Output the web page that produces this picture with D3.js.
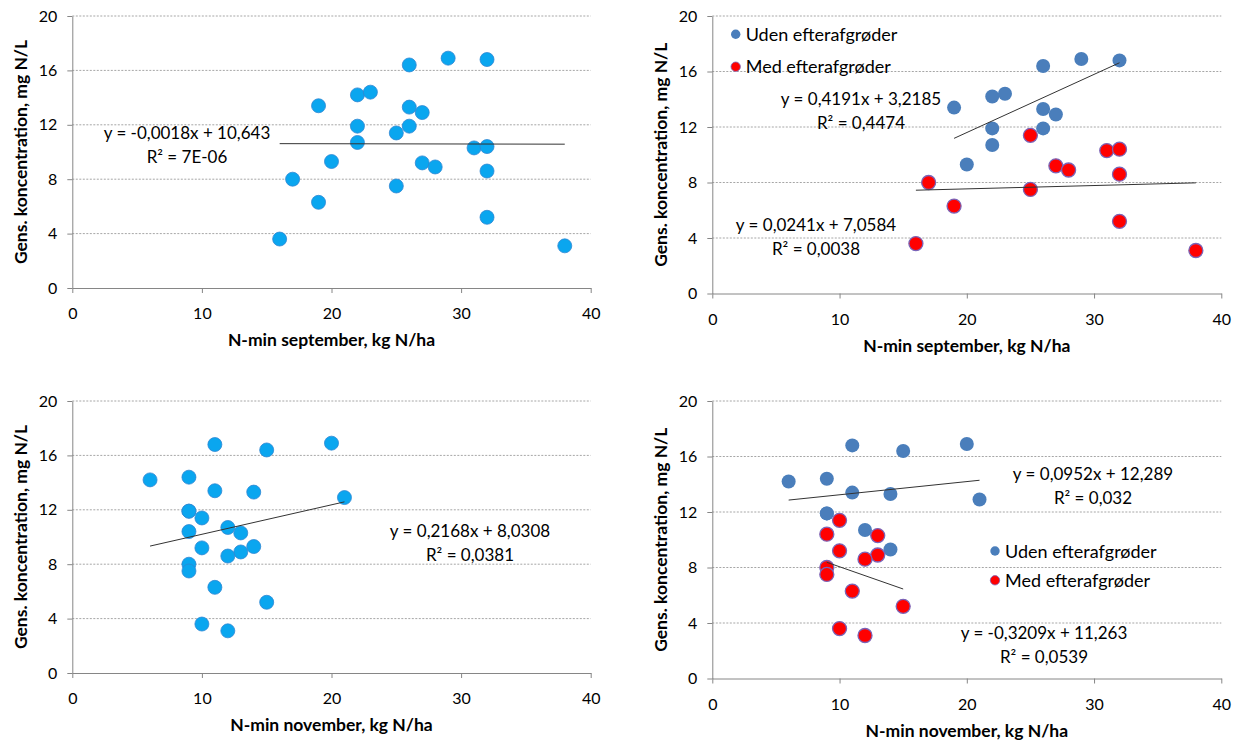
<!DOCTYPE html>
<meta charset="utf-8">
<title>N-min og nitratkoncentration</title>
<style>
body {
  margin: 0;
  background-color: white;
  font-family: 'Lato', sans-serif;
}
.grid line {
  stroke: #a6a6a6;
  stroke-dasharray: 2,1.5;
}
.axis path, .axis line {
  stroke: #868686;
}
.axis text {
  font-family: 'Lato', sans-serif;
  font-size: 16px;
  fill: #000;
}
.title {
  font-size: 17.5px;
  font-weight: bold;
}
.eq {
  font-size: 17px;
}
.legend {
  font-size: 18px;
}
.trend {
  stroke: #333;
  stroke-width: 1;
}
</style>
<body>
<script src="https://d3js.org/d3.v7.min.js"></script>
<script>
// concentration (mg N/L), without catch crops
var udenConc = [13.4, 9.3, 14.2, 11.9, 10.7, 14.4, 16.4, 13.3, 11.9, 12.9, 16.9, 16.8];
var udenSep  = [19, 20, 22, 22, 22, 23, 26, 26, 26, 27, 29, 32];
var udenNov  = [11, 14, 6, 9, 12, 9, 15, 14, 9, 21, 20, 11];

// concentration (mg N/L), with catch crops
var medConc = [3.6, 8.0, 6.3, 11.4, 7.5, 9.2, 8.9, 10.3, 10.4, 8.6, 5.2, 3.1];
var medSep  = [16, 17, 19, 25, 25, 27, 28, 31, 32, 32, 32, 38];
var medNov  = [10, 9, 11, 10, 9, 10, 13, 13, 9, 12, 15, 12];

var xTicks = [0, 10, 20, 30, 40];
var yTicks = [0, 4, 8, 12, 16, 20];

// trendlines: [slope, intercept] and their labels
var trendSepAll  = [-0.0018, 10.643];
var trendSepUden = [0.4191, 3.2185];
var trendSepMed  = [0.0241, 7.0584];
var trendNovAll  = [0.2168, 8.0308];
var trendNovUden = [0.0952, 12.289];
var trendNovMed  = [-0.3209, 11.263];

var labelSepAll  = ["y = -0,0018x + 10,643", "R² = 7E-06"];
var labelSepUden = ["y = 0,4191x + 3,2185", "R² = 0,4474"];
var labelSepMed  = ["y = 0,0241x + 7,0584", "R² = 0,0038"];
var labelNovAll  = ["y = 0,2168x + 8,0308", "R² = 0,0381"];
var labelNovUden = ["y = 0,0952x + 12,289", "R² = 0,032"];
var labelNovMed  = ["y = -0,3209x + 11,263", "R² = 0,0539"];

var legendNames = ["Uden efterafgrøder", "Med efterafgrøder"];

var allBlue = "#0aa6ef", udenBlue = "#4a7ebb", medRed = "#ff0000";

var svg = d3.select("body").append("svg")
    .attr("width", 1245)
    .attr("height", 742);

function pairs(xs, ys) {
  return xs.map(function(x, i) { return [x, ys[i]]; });
}

// one scatter panel
function panel(p) {
  var x = d3.scaleLinear().domain([0, 40]).range([p.left, p.right]);
  var y = d3.scaleLinear().domain([0, 20]).range([p.bottom, p.top]);

  var g = svg.append("g");

  g.append("g").attr("class", "grid")
    .selectAll("line")
    .data(yTicks.filter(function(d) { return d > 0; }))
    .enter().append("line")
    .attr("x1", p.left).attr("x2", p.right)
    .attr("y1", function(d) { return y(d); })
    .attr("y2", function(d) { return y(d); });

  g.append("g").attr("class", "axis")
    .attr("transform", "translate(0," + p.bottom + ")")
    .call(d3.axisBottom(x).tickValues(xTicks).tickSize(5).tickSizeOuter(0).tickPadding(15));

  g.append("g").attr("class", "axis")
    .attr("transform", "translate(" + p.left + ",0)")
    .call(d3.axisLeft(y).tickValues(yTicks).tickSize(5).tickSizeOuter(0).tickPadding(10));

  g.selectAll(".domain").attr("stroke", "#868686");

  // axis titles
  g.append("text").attr("class", "title")
    .attr("x", (p.left + p.right) / 2)
    .attr("y", p.bottom + 58)
    .attr("text-anchor", "middle")
    .text(p.xTitle);

  g.append("text").attr("class", "title")
    .attr("transform", "translate(" + (p.left - 45) + "," + ((p.top + p.bottom) / 2) + ")rotate(-90)")
    .attr("text-anchor", "middle")
    .text("Gens. koncentration, mg N/L");

  // points
  p.series.forEach(function(s) {
    g.append("g").selectAll("circle")
      .data(s.pts)
      .enter().append("circle")
      .attr("cx", function(d) { return x(d[0]); })
      .attr("cy", function(d) { return y(d[1]); })
      .attr("r", 7)
      .attr("fill", s.color)
      .attr("stroke", s.stroke)
      .attr("stroke-width", s.sw);
  });

  // trendlines + equations
  p.trends.forEach(function(t) {
    var ext = d3.extent(t.xs);
    g.append("line").attr("class", "trend")
      .attr("x1", x(ext[0])).attr("x2", x(ext[1]))
      .attr("y1", y(t.coef[0] * ext[0] + t.coef[1]))
      .attr("y2", y(t.coef[0] * ext[1] + t.coef[1]));
    g.append("g").selectAll("text")
      .data(t.label)
      .enter().append("text").attr("class", "eq")
      .attr("x", t.at[0])
      .attr("y", function(d, i) { return t.at[1] + i * 23.5; })
      .attr("text-anchor", "middle")
      .text(function(d) { return d; });
  });

  // legend
  if (p.legend) {
    var lg = g.append("g").selectAll("g")
      .data(legendNames)
      .enter().append("g")
      .attr("transform", function(d, i) { return "translate(" + p.legend[0] + "," + (p.legend[1] + i * p.legend[2]) + ")"; });
    lg.append("circle")
      .attr("r", 4.7)
      .attr("fill", function(d, i) { return i == 0 ? udenBlue : medRed; })
      .attr("stroke", function(d, i) { return i == 0 ? "none" : "#7a64b8"; })
      .attr("stroke-width", 0.8);
    lg.append("text").attr("class", "legend")
      .attr("x", 10)
      .attr("y", 6.5)
      .text(function(d) { return d; });
  }
}

var sepAll = pairs(udenSep, udenConc).concat(pairs(medSep, medConc));
var novAll = pairs(udenNov, udenConc).concat(pairs(medNov, medConc));

panel({
  left: 72.3, right: 590.7, top: 16, bottom: 288,
  xTitle: "N-min september, kg N/ha",
  series: [{ pts: sepAll, color: allBlue, stroke: "#2f86d3", sw: 0.8 }],
  trends: [{ xs: udenSep.concat(medSep), coef: trendSepAll, label: labelSepAll, at: [187, 139] }]
});

panel({
  left: 712.3, right: 1221.3, top: 16, bottom: 293.5,
  xTitle: "N-min september, kg N/ha",
  series: [
    { pts: pairs(udenSep, udenConc), color: udenBlue, stroke: "none", sw: 0 },
    { pts: pairs(medSep, medConc), color: medRed, stroke: "#7a64b8", sw: 1.3 }
  ],
  trends: [
    { xs: udenSep, coef: trendSepUden, label: labelSepUden, at: [861, 105] },
    { xs: medSep, coef: trendSepMed, label: labelSepMed, at: [816, 231] }
  ],
  legend: [735.7, 34.3, 32.4]
});

panel({
  left: 72.3, right: 590.7, top: 401, bottom: 673,
  xTitle: "N-min november, kg N/ha",
  series: [{ pts: novAll, color: allBlue, stroke: "#2f86d3", sw: 0.8 }],
  trends: [{ xs: udenNov.concat(medNov), coef: trendNovAll, label: labelNovAll, at: [470, 537] }]
});

panel({
  left: 712.3, right: 1221.3, top: 401, bottom: 678.5,
  xTitle: "N-min november, kg N/ha",
  series: [
    { pts: pairs(udenNov, udenConc), color: udenBlue, stroke: "none", sw: 0 },
    { pts: pairs(medNov, medConc), color: medRed, stroke: "#7a64b8", sw: 1.3 }
  ],
  trends: [
    { xs: udenNov, coef: trendNovUden, label: labelNovUden, at: [1093, 480] },
    { xs: medNov, coef: trendNovMed, label: labelNovMed, at: [1044, 639] }
  ],
  legend: [995, 551, 29.3]
});
</script>
</body>
